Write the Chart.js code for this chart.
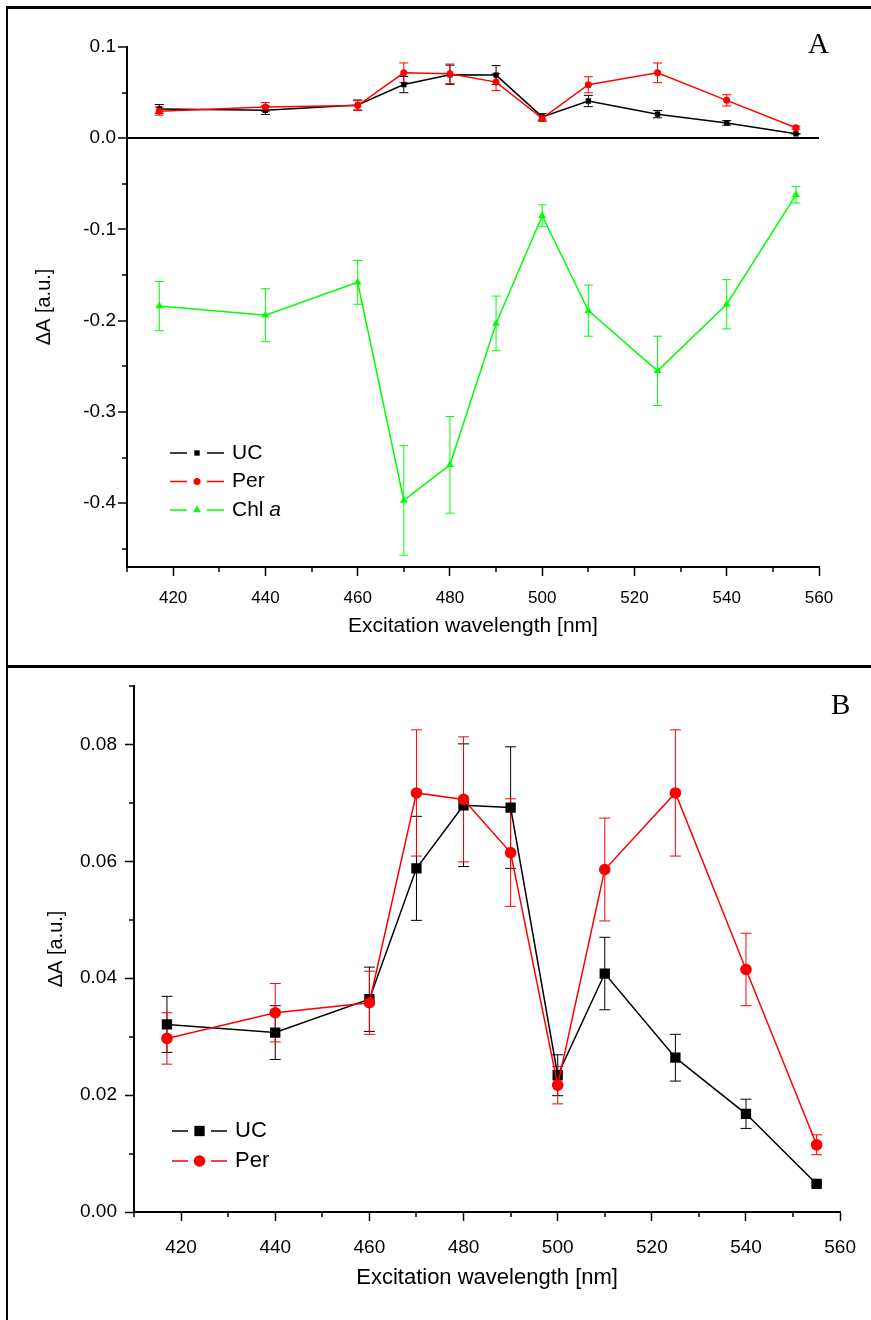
<!DOCTYPE html>
<html>
<head>
<meta charset="utf-8">
<title>Excitation wavelength dependence</title>
<script src="https://cdn.jsdelivr.net/npm/chart.js@4.4.0/dist/chart.umd.min.js"></script>
<style>
body { margin: 0; background: #fff; width: 871px; height: 1320px; position: relative; overflow: hidden; }
#frame { position: absolute; left: 6px; top: 6px; width: 900px; height: 1400px; border-top: 3px solid #000; border-left: 2px solid #000; }
#sep { position: absolute; left: 6px; top: 665px; width: 900px; height: 3px; background: #000; }
#chartA { position: absolute; left: 0; top: 0; }
#chartB { position: absolute; left: 0; top: 666px; }
.tag { position: absolute; font-family: "Liberation Serif", "Times New Roman", serif; font-size: 29px; color: #000; }
</style>
</head>
<body>
<div id="frame"></div>
<div id="sep"></div>
<canvas id="chartA" width="871" height="666"></canvas>
<canvas id="chartB" width="871" height="654"></canvas>
<div class="tag" style="left:808px;top:27px">A</div>
<div class="tag" style="left:831px;top:688px">B</div>
<script>
// excitation wavelengths [nm]
var wavelengths = [417, 440, 460, 470, 480, 490, 500, 510, 525, 540, 555];

// delta A, with error bar half-lengths
var ucValues  = [0.0321, 0.0307, 0.0364, 0.0588, 0.0696, 0.0692, 0.0234, 0.0408, 0.0264, 0.0168, 0.0048];
var ucErrors  = [0.0048, 0.0046, 0.0055, 0.0089, 0.0105, 0.0104, 0.0035, 0.0062, 0.0040, 0.0025, 0.0003];
var perValues = [0.0297, 0.0341, 0.0358, 0.0717, 0.0706, 0.0615, 0.0217, 0.0586, 0.0717, 0.0415, 0.0115];
var perErrors = [0.0044, 0.0050, 0.0054, 0.0108, 0.0107, 0.0092, 0.0032, 0.0088, 0.0108, 0.0062, 0.0017];
var chlValues = [-0.184, -0.194, -0.158, -0.397, -0.358, -0.203, -0.085, -0.189, -0.255, -0.182, -0.062];
var chlErrors = [0.027, 0.029, 0.024, 0.060, 0.053, 0.030, 0.012, 0.028, 0.038, 0.027, 0.009];

var seriesLabels = ['UC', 'Per', 'Chl'];

// tick labels
var xTicks = [420, 440, 460, 480, 500, 520, 540, 560];
var xMinor = [410, 430, 450, 470, 490, 510, 530, 550];
var yTicksA = [0.1, 0.0, -0.1, -0.2, -0.3, -0.4];
var yMinorA = [0.05, -0.05, -0.15, -0.25, -0.35, -0.45];
var yTicksB = [0.00, 0.02, 0.04, 0.06, 0.08];
var yMinorB = [0.01, 0.03, 0.05, 0.07, 0.09];

var FONT = "'Liberation Sans', Arial, sans-serif";
Chart.defaults.font.family = FONT;
Chart.defaults.color = '#000';

function points(vals) {
    return wavelengths.map(function(w, i) { return {x: w, y: vals[i]}; });
}

var errorBars = {
    id: 'errorBars',
    beforeDatasetsDraw: function(chart, args, opts) {
        var ctx = chart.ctx;
        var xs = chart.scales.x, ys = chart.scales.y;
        chart.data.datasets.forEach(function(ds) {
            if (!ds.errors) return;
            ctx.save();
            ctx.strokeStyle = ds.borderColor;
            ctx.lineWidth = 1;
            ds.data.forEach(function(p, i) {
                var e = ds.errors[i];
                var x = xs.getPixelForValue(p.x);
                var t = ys.getPixelForValue(p.y + e);
                var b = ys.getPixelForValue(p.y - e);
                ctx.beginPath();
                ctx.moveTo(x, t); ctx.lineTo(x, b);
                ctx.moveTo(x - opts.cap, t); ctx.lineTo(x + opts.cap, t);
                ctx.moveTo(x - opts.cap, b); ctx.lineTo(x + opts.cap, b);
                ctx.stroke();
            });
            ctx.restore();
        });
    }
};

var minorTicks = {
    id: 'minorTicks',
    afterDraw: function(chart, args, opts) {
        var ctx = chart.ctx;
        var area = chart.chartArea;
        ctx.save();
        ctx.strokeStyle = '#000';
        ctx.lineWidth = 1.5;
        ctx.beginPath();
        opts.x.forEach(function(v) {
            var px = Math.round(chart.scales.x.getPixelForValue(v));
            ctx.moveTo(px, area.bottom); ctx.lineTo(px, area.bottom + opts.len);
        });
        opts.y.forEach(function(v) {
            var py = Math.round(chart.scales.y.getPixelForValue(v));
            ctx.moveTo(area.left, py); ctx.lineTo(area.left - opts.len, py);
        });
        ctx.stroke();
        ctx.restore();
    }
};

var lineLegend = {
    id: 'lineLegend',
    afterDraw: function(chart, args, opts) {
        var ctx = chart.ctx;
        chart.data.datasets.forEach(function(ds, i) {
            var y = opts.y + i * opts.gap;
            var x0 = opts.x;
            ctx.save();
            ctx.strokeStyle = ds.borderColor;
            ctx.lineWidth = 1.5;
            ctx.beginPath();
            ctx.moveTo(x0, y); ctx.lineTo(x0 + opts.seg, y);
            ctx.moveTo(x0 + opts.seg + opts.mid, y); ctx.lineTo(x0 + 2 * opts.seg + opts.mid, y);
            ctx.stroke();
            ctx.fillStyle = ds.pointBackgroundColor;
            ctx.strokeStyle = ds.pointBackgroundColor;
            Chart.helpers.drawPoint(ctx, {pointStyle: ds.pointStyle, radius: ds.pointRadius, rotation: 0, borderWidth: 0},
                x0 + opts.seg + opts.mid / 2, y);
            ctx.fillStyle = '#000';
            ctx.textBaseline = 'middle';
            ctx.font = opts.size + 'px ' + FONT;
            var tx = x0 + 2 * opts.seg + opts.mid + opts.pad;
            ctx.fillText(ds.label, tx, y);
            if (ds.italic) {
                var w = ctx.measureText(ds.label + ' ').width;
                ctx.font = 'italic ' + opts.size + 'px ' + FONT;
                ctx.fillText(ds.italic, tx + w, y);
            }
            ctx.restore();
        });
    }
};

function makeDataset(label, vals, errs, color, style, radius, order) {
    return {
        label: label,
        data: points(vals),
        errors: errs,
        borderColor: color,
        backgroundColor: color,
        pointBackgroundColor: color,
        pointBorderColor: color,
        pointBorderWidth: 0,
        pointStyle: style,
        pointRadius: radius,
        pointHoverRadius: radius,
        borderWidth: 1.5,
        tension: 0,
        fill: false,
        order: order
    };
}

function xScale(tickSize, tickPad, axisHeight, titleSize, titlePad) {
    return {
        type: 'linear',
        min: 410,
        max: 560,
        afterBuildTicks: function(s) { s.ticks = xTicks.map(function(v) { return {value: v}; }); },
        afterFit: function(s) { s.height = axisHeight; },
        border: {display: true, color: '#000', width: 2},
        grid: {drawOnChartArea: false, drawTicks: true, tickLength: 9, tickColor: '#000', tickWidth: 1.5},
        ticks: {font: {size: tickSize}, padding: tickPad, maxRotation: 0, color: '#000'},
        title: {display: true, text: 'Excitation wavelength [nm]', font: {size: titleSize}, padding: {top: 0, bottom: titlePad}, color: '#000'}
    };
}

var chlDs = makeDataset('Chl', chlValues, chlErrors, '#00ff00', 'triangle', 4.5, 2);
chlDs.italic = 'a';

var chartA = new Chart(document.getElementById('chartA').getContext('2d'), {
    type: 'line',
    data: {
        datasets: [
            makeDataset(seriesLabels[0], ucValues, ucErrors, '#000000', 'rect', 3.8, 1),
            makeDataset(seriesLabels[1], perValues, perErrors, '#ff0000', 'circle', 3.5, 0),
            chlDs
        ]
    },
    options: {
        responsive: false,
        animation: false,
        layout: {padding: {left: 0, top: 47, right: 52, bottom: 0}},
        plugins: {
            legend: {display: false},
            tooltip: {enabled: false},
            errorBars: {cap: 4.5},
            minorTicks: {x: xMinor, y: yMinorA, len: 5},
            lineLegend: {x: 170, y: 453, gap: 28.5, seg: 17, mid: 20, pad: 8, size: 21}
        },
        scales: {
            x: xScale(17, 12, 99, 21, 27),
            y: {
                min: -0.47,
                max: 0.1,
                afterBuildTicks: function(s) { s.ticks = yTicksA.map(function(v) { return {value: v}; }); },
                afterFit: function(s) { s.width = 127; },
                border: {display: true, color: '#000', width: 2},
                grid: {
                    drawOnChartArea: true,
                    drawTicks: true,
                    tickLength: 9,
                    tickColor: '#000',
                    tickWidth: 1.5,
                    color: function(c) { return c.tick && c.tick.value === 0 ? '#000' : 'rgba(0,0,0,0)'; },
                    lineWidth: function(c) { return c.tick && c.tick.value === 0 ? 2 : 0; }
                },
                ticks: {font: {size: 19}, padding: 2, color: '#000', callback: function(v) { return v.toFixed(1); }},
                title: {display: true, text: '\u0394A [a.u.]', font: {size: 20}, padding: {top: 32, bottom: 0}, color: '#000'}
            }
        }
    },
    plugins: [errorBars, minorTicks, lineLegend]
});

var chartB = new Chart(document.getElementById('chartB').getContext('2d'), {
    type: 'line',
    data: {
        datasets: [
            makeDataset(seriesLabels[0], ucValues, ucErrors, '#000000', 'rect', 7.3, 1),
            makeDataset(seriesLabels[1], perValues, perErrors, '#ff0000', 'circle', 5.8, 0)
        ]
    },
    options: {
        responsive: false,
        animation: false,
        layout: {padding: {left: 0, top: 20, right: 30, bottom: 0}},
        plugins: {
            legend: {display: false},
            tooltip: {enabled: false},
            errorBars: {cap: 5.5},
            minorTicks: {x: xMinor, y: yMinorB, len: 5},
            lineLegend: {x: 172, y: 465, gap: 30, seg: 16, mid: 23, pad: 8, size: 22}
        },
        scales: {
            x: xScale(19, 15, 108, 22, 29),
            y: {
                min: 0,
                max: 0.09,
                afterBuildTicks: function(s) { s.ticks = yTicksB.map(function(v) { return {value: v}; }); },
                afterFit: function(s) { s.width = 134; },
                border: {display: true, color: '#000', width: 2},
                grid: {drawOnChartArea: false, drawTicks: true, tickLength: 9, tickColor: '#000', tickWidth: 1.5},
                ticks: {font: {size: 19}, padding: 8, color: '#000', callback: function(v) { return v.toFixed(2); }},
                title: {display: true, text: '\u0394A [a.u.]', font: {size: 20}, padding: {top: 44, bottom: 0}, color: '#000'}
            }
        }
    },
    plugins: [errorBars, minorTicks, lineLegend]
});
</script>
</body>
</html>
